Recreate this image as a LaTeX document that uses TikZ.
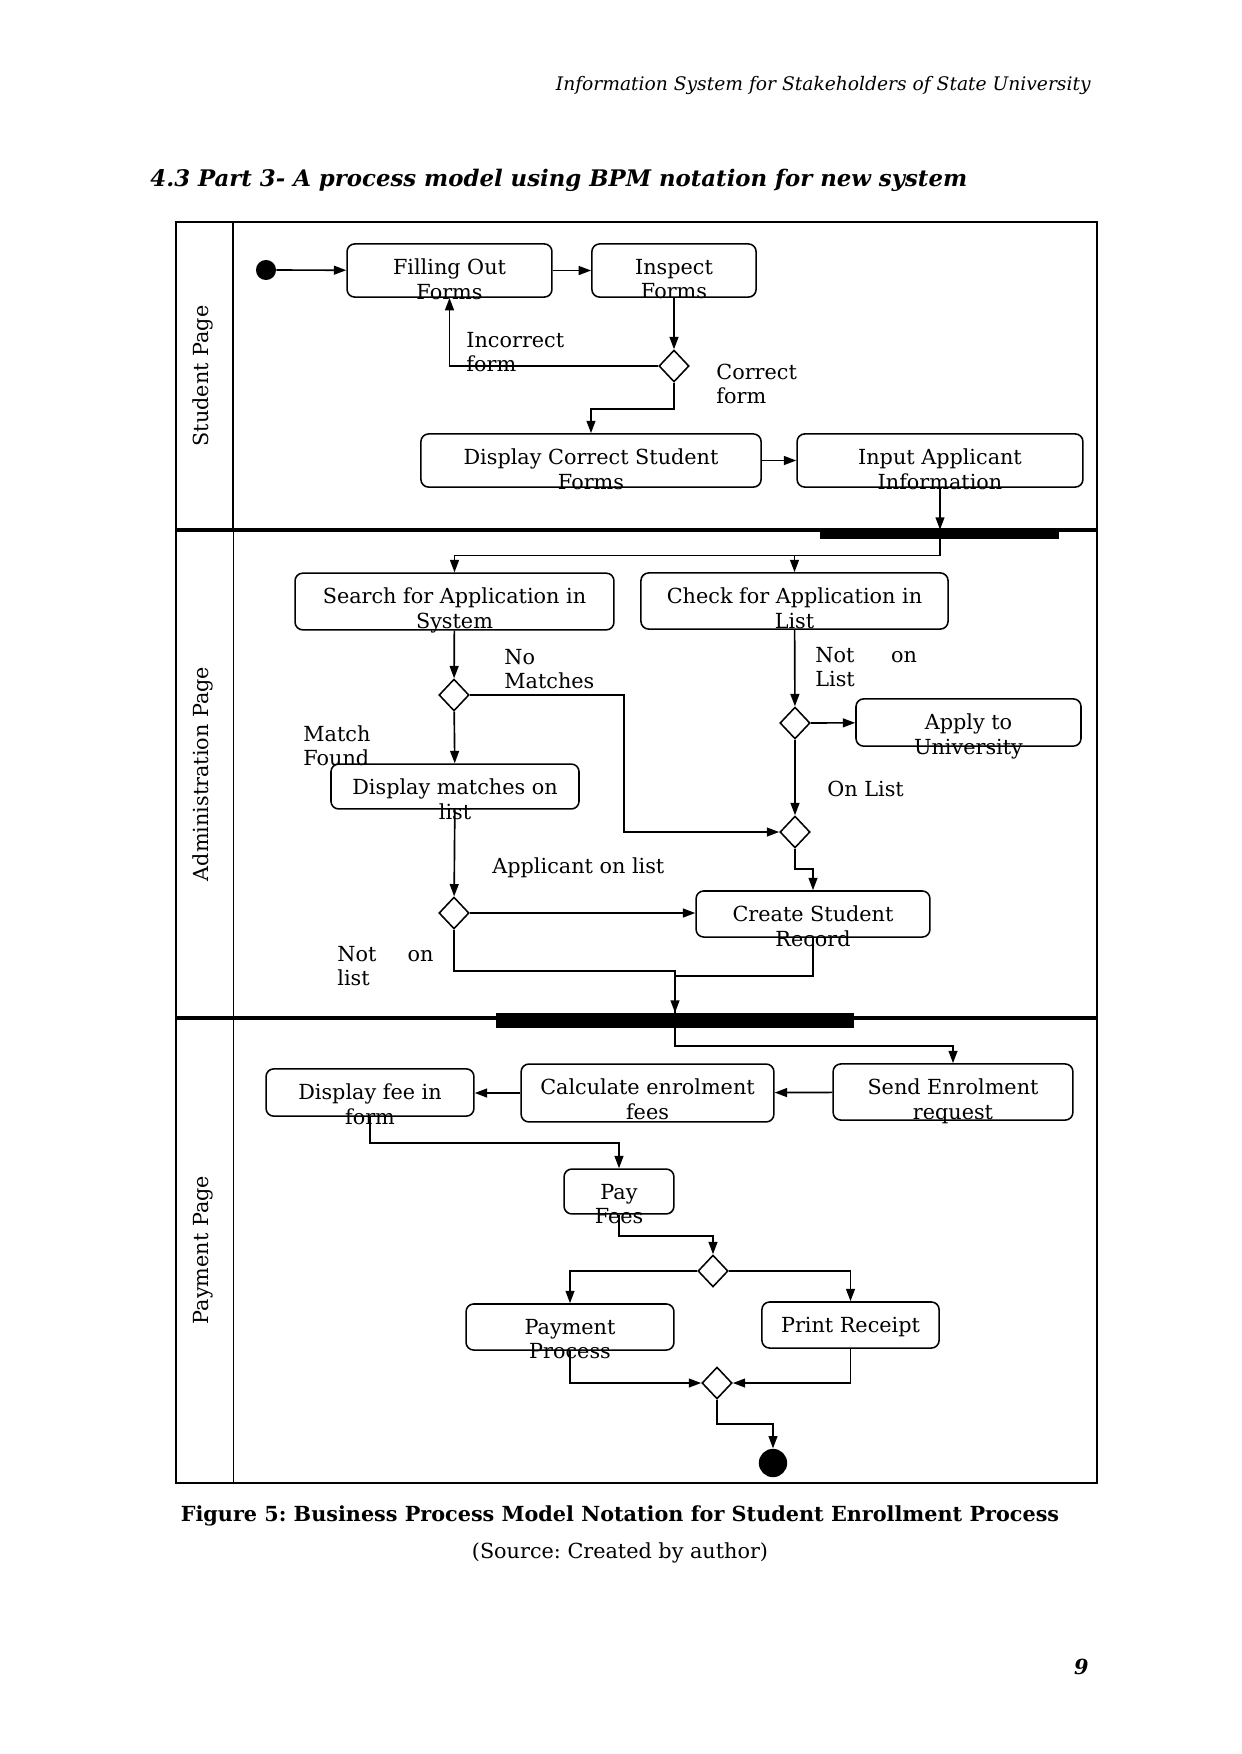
\documentclass[tikz,border=0pt]{standalone}
\usepackage{fontspec}
\setmainfont{DejaVu Serif}
\frenchspacing
\usetikzlibrary{arrows.meta, shapes.geometric, positioning, calc}

\begin{document}
\begin{tikzpicture}[x=0.16933mm, y=-0.16933mm,
    every node/.style={font=\fontsize{10}{11.8}\selectfont},
    act/.style 2 args={rectangle, draw, rounded corners=1.3mm, line width=0.75pt,
                       inner sep=0pt, minimum width=#1, minimum height=#2},
    acttxt/.style={anchor=north, align=center, inner sep=0pt},
    dec/.style={diamond, draw, fill=white, inner sep=0pt, line width=0.75pt,
                minimum width=5.1mm, minimum height=5.4mm},
    bar/.style 2 args={rectangle, fill=black, inner sep=0pt,
                       minimum width=#1, minimum height=#2},
    init/.style={circle, fill=black, inner sep=0pt, minimum size=#1},
    guard/.style={anchor=west, align=left, inner sep=0pt},
    lane/.style={rotate=90, inner sep=0pt},
    arr/.style={-{Triangle[length=2.1mm, width=1.5mm]}, line width=0.8pt},
    con/.style={line width=0.8pt}
  ]
  \useasboundingbox (0,0) rectangle (1241,1754);

  % page text
  \node[anchor=east, inner sep=0pt, font=\fontsize{9}{11}\selectfont\itshape] (hdr) at (1091,85)
    {Information System for Stakeholders of State University};
  \node[anchor=west, inner sep=0pt, font=\fontsize{11}{13}\selectfont\bfseries\itshape] (title) at (150,180)
    {4.3 Part 3- A process model using BPM notation for new system};

  % pool and lanes
  \draw[line width=1.3pt] (176,222) rectangle (1097,1483);
  \draw[line width=1.7pt] (176,530) -- (1097,530);
  \draw[line width=1.7pt] (176,1018) -- (1097,1018);
  \draw[line width=1.1pt] (233,222) -- (233,530);
  \draw[line width=0.4pt] (233,530) -- (233,1483);
  \node[lane] (lstud) at (203,376) {Student Page};
  \node[lane] (ladm)  at (203,774) {Administration Page};
  \node[lane] (lpay)  at (203,1250) {Payment Page};

  % Student Page
  \node[init=3.4mm] (start) at (266,270) {};
  \node[act={34.7mm}{9.0mm}] (fill) at (449.5,270.5) {};
  \node[act={27.8mm}{9.0mm}] (insp) at (674,270.5) {};
  \node[dec] (d1) at (674,366) {};
  \node[act={57.6mm}{9.0mm}] (disp) at (591,460.5) {};
  \node[act={48.4mm}{9.0mm}] (input) at (940,460.5) {};
  \node[acttxt] (fill-t)  at ([yshift=-2.6mm]fill.north)  {Filling Out\\Forms};
  \node[acttxt] (insp-t)  at ([yshift=-2.6mm]insp.north)  {Inspect\\Forms};
  \node[acttxt] (disp-t)  at ([yshift=-2.6mm]disp.north)  {Display Correct Student\\Forms};
  \node[acttxt] (input-t) at ([yshift=-2.6mm]input.north) {Input Applicant\\Information};
  \node[guard] (incor) at (466,352) {Incorrect\\form};
  \node[guard] (cor)   at (716,384) {Correct\\form};

  \draw[arr] (start) -- (fill);
  \draw[arr] (fill) -- (insp);
  \draw[arr] (insp) -- (d1);
  \draw[arr] (d1.west) -| (fill.south);
  \draw[arr] (d1.south) -- ++(0,26) -| (disp.north);
  \draw[arr] (disp) -- (input);

  % fork
  \node[bar={40.5mm}{1.5mm}] (fork) at (939.5,534.5) {};
  \draw[arr] (input.south) -- (input.south |- fork.north);

  % Administration Page
  \node[act={54.0mm}{9.6mm}] (search) at (454.5,601.5) {};
  \node[act={52.0mm}{9.5mm}] (check) at (794.5,601) {};
  \node[dec] (d2) at (454,695) {};
  \node[act={42.0mm}{7.6mm}] (dmatch) at (455,786.5) {};
  \node[dec] (d3) at (454,913) {};
  \node[act={39.6mm}{7.8mm}] (create) at (813,914) {};
  \node[dec] (d5) at (795,723) {};
  \node[act={38.1mm}{8.0mm}] (apply) at (968.5,722.5) {};
  \node[dec] (d4) at (795,832) {};
  \node[acttxt] (search-t) at ([yshift=-2.6mm]search.north) {Search for Application in\\System};
  \node[acttxt] (check-t)  at ([yshift=-2.6mm]check.north)  {Check for Application in\\List};
  \node[acttxt] (dmatch-t) at ([yshift=-2.6mm]dmatch.north) {Display matches on\\list};
  \node[acttxt] (create-t) at ([yshift=-2.6mm]create.north) {Create Student\\Record};
  \node[acttxt] (apply-t)  at ([yshift=-2.6mm]apply.north)  {Apply to\\University};
  \node[guard] (nomatch) at (504,669) {No\\Matches};
  \node[guard] (mfound)  at (303,746) {Match\\Found};
  \node[guard] (notlst)  at (815,667) {Not\hspace{6.2mm}on\\List};
  \node[guard] (onlst)   at (827,789) {On List};
  \node[guard] (applst)  at (492,868) {Applicant on list};
  \node[guard] (notlst2) at (337,966) {Not\hspace{5.3mm}on\\list};
  \coordinate (nmturn) at (624,832);

  \draw[arr] (fork.south -| input.south) -- ++(0,16) -| (search.north);
  \draw[arr] (fork.south -| input.south) -- ++(0,16) -| (check.north);
  \draw[arr] (search) -- (d2);
  \draw[arr] (d2) -- (dmatch);
  \draw[arr] (d2.east) -| (nmturn) -- (d4.west);
  \draw[arr] (dmatch) -- (d3);
  \draw[arr] (d3.east) -- (d3.east -| create.west);
  \draw[arr] (check) -- (d5);
  \draw[arr] (d5) -- (apply);
  \draw[arr] (d5) -- (d4);
  \draw[arr] (d4.south) -- ++(0,20) -| (create.north);

  % join
  \node[bar={60.6mm}{2.5mm}] (join) at (675,1020.5) {};
  \draw[arr] (d3.south) -- ++(0,41) -| (join.north);
  \draw[con] (create.south) -- ++(0,38) -| (join.north);

  % Payment Page
  \node[act={40.6mm}{9.5mm}] (send) at (953,1092) {};
  \node[act={42.8mm}{9.8mm}] (calc) at (647.5,1093) {};
  \node[act={35.2mm}{8.0mm}] (dfee) at (370,1092.5) {};
  \node[act={18.6mm}{7.6mm}] (pay) at (619,1191.5) {};
  \node[dec] (d6) at (713,1271) {};
  \node[act={35.2mm}{7.8mm}] (pproc) at (570,1327) {};
  \node[act={30.0mm}{7.8mm}] (print) at (850.5,1325) {};
  \node[dec] (d7) at (717,1383) {};
  \node[init=4.8mm] (end) at (773,1463) {};
  \node[acttxt] (send-t)  at ([yshift=-2.6mm]send.north)  {Send Enrolment\\request};
  \node[acttxt] (calc-t)  at ([yshift=-2.6mm]calc.north)  {Calculate enrolment\\fees};
  \node[acttxt] (dfee-t)  at ([yshift=-2.6mm]dfee.north)  {Display fee in\\form};
  \node[acttxt] (pay-t)   at ([yshift=-2.6mm]pay.north)   {Pay\\Fees};
  \node[acttxt] (pproc-t) at ([yshift=-2.6mm]pproc.north) {Payment\\Process};
  \node[acttxt] (print-t) at ([yshift=-2.6mm]print.north) {Print Receipt};

  \draw[arr] (join.south) -- ++(0,18) -| (send.north);
  \draw[arr] (send) -- (calc);
  \draw[arr] (calc.west) -- (calc.west -| dfee.east);
  \draw[arr] (dfee.south) -- ++(0,26) -| (pay.north);
  \draw[arr] (pay.south) -- ++(0,21) -| (d6.north);
  \draw[arr] (d6.west) -| (pproc.north);
  \draw[arr] (d6.east) -| (print.north);
  \draw[arr] (pproc.south) |- (d7.west);
  \draw[arr] (print.south) |- (d7.east);
  \draw[arr] (d7.south) -- ++(0,24) -| (end.north);

  % caption
  \node[font=\fontsize{10}{12}\selectfont\bfseries] (cap) at (620,1516)
    {Figure 5: Business Process Model Notation for Student Enrollment Process};
  \node (src) at (620,1553) {(Source: Created by author)};
  \node[anchor=east, inner sep=0pt, font=\fontsize{10}{12}\selectfont\bfseries\itshape] (pg) at (1089,1667) {9};
\end{tikzpicture}
\end{document}
